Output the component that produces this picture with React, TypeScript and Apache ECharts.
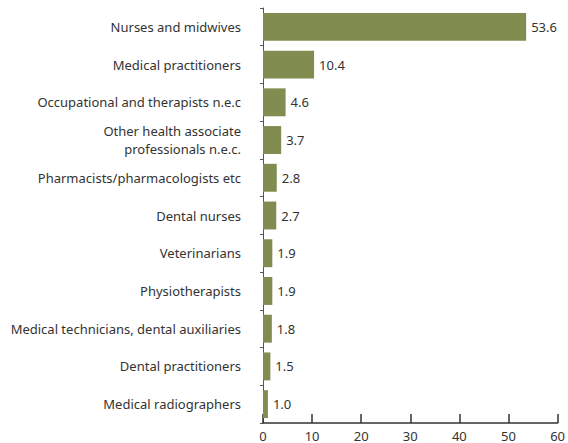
import React, { useEffect, useRef } from "react";
import * as echarts from "echarts";

const categories = [
  "Nurses and midwives",
  "Medical practitioners",
  "Occupational and therapists n.e.c",
  "Other health associate\nprofessionals n.e.c.",
  "Pharmacists/pharmacologists etc",
  "Dental nurses",
  "Veterinarians",
  "Physiotherapists",
  "Medical technicians, dental auxiliaries",
  "Dental practitioners",
  "Medical radiographers",
];
const values = [53.6, 10.4, 4.6, 3.7, 2.8, 2.7, 1.9, 1.9, 1.8, 1.5, 1.0];
const xTicks = { min: 0, max: 60, interval: 10 };

export default function App() {
  const ref = useRef<HTMLDivElement>(null);
  useEffect(() => {
    const chart = echarts.init(ref.current!, null, { renderer: "svg" });
    const font = "Noto Sans";
    chart.setOption({
      animation: false,
      textStyle: { fontFamily: font },
      grid: { left: 263, right: 7, top: 8, bottom: 20, containLabel: false },
      xAxis: {
        type: "value",
        min: xTicks.min,
        max: xTicks.max,
        interval: xTicks.interval,
        splitLine: { show: false },
        axisLine: { show: true, lineStyle: { color: "#333", width: 1.5 } },
        axisTick: { show: true, inside: true, length: 9, lineStyle: { color: "#333", width: 1.5 } },
        axisLabel: { color: "#333", fontSize: 13, fontFamily: font, margin: 6 },
      },
      yAxis: {
        type: "category",
        data: categories,
        inverse: true,
        axisLine: { show: true, lineStyle: { color: "#555", width: 1 } },
        axisTick: { show: true, length: 3, lineStyle: { color: "#555" } },
        axisLabel: {
          color: "#333",
          fontSize: 13,
          fontFamily: font,
          margin: 22,
          align: "right",
          lineHeight: 18,
        },
      },
      series: [
        {
          type: "bar",
          data: values,
          barCategoryGap: "26%",
          itemStyle: { color: "#808c50" },
          label: {
            show: true,
            position: "right",
            distance: 5,
            color: "#333",
            fontSize: 13,
            fontFamily: font,
            formatter: (p: any) => Number(p.value).toFixed(1),
          },
        },
      ],
    });
    return () => chart.dispose();
  }, []);
  return <div ref={ref} style={{ width: 568, height: 443, position: "absolute", left: 0, top: 0 }} />;
}
